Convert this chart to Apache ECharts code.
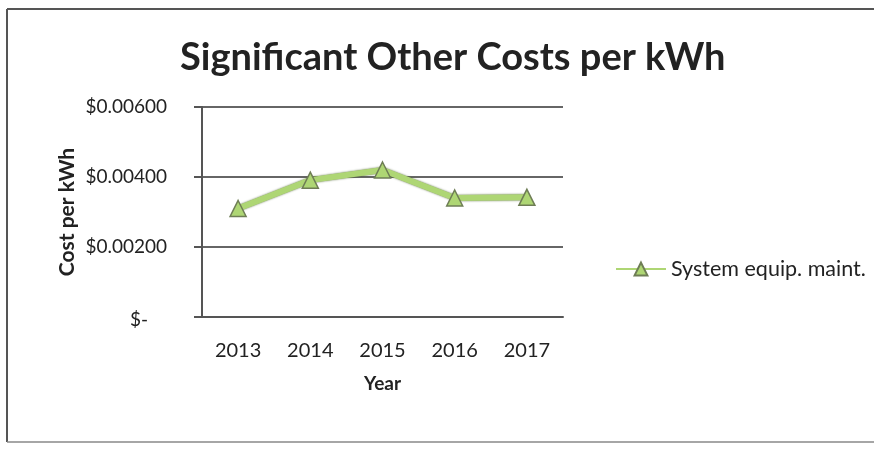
<!DOCTYPE html>
<html>
<head>
<meta charset="utf-8">
<script src="https://cdn.jsdelivr.net/npm/echarts@6/dist/echarts.min.js"></script>
<style>
  html, body { margin: 0; padding: 0; background: #fff; }
  #main { width: 874px; height: 451px; }
</style>
</head>
<body>
<div id="main"></div>
<script>
// chart data
var years = ['2013', '2014', '2015', '2016', '2017'];
var equipMaint = [0.00310, 0.00391, 0.00420, 0.00340, 0.00342];
var yTicks = [0, 0.002, 0.004, 0.006];
var seriesName = 'System equip. maint.';

var font = 'Lato';
var chart = echarts.init(document.getElementById('main'));

var option = {
  backgroundColor: '#fff',
  animation: false,
  // frame of the scanned chart box (open on the right)
  graphic: [
    { type: 'line', shape: { x1: 7, y1: 9, x2: 874, y2: 9 }, style: { stroke: '#555', lineWidth: 2 } },
    { type: 'line', shape: { x1: 7, y1: 9, x2: 7, y2: 442 }, style: { stroke: '#555', lineWidth: 2 } },
    { type: 'line', shape: { x1: 7, y1: 442, x2: 874, y2: 442 }, style: { stroke: '#888', lineWidth: 1.5 } }
  ],
  title: {
    text: 'Significant Other Costs per kWh',
    left: 175,
    top: 34,
    textStyle: { fontFamily: font, fontSize: 38, fontWeight: 'bold', color: '#222' }
  },
  legend: {
    data: [seriesName],
    left: 610,
    top: 253,
    itemWidth: 50,
    itemHeight: 16,
    itemGap: 4,
    textStyle: { fontFamily: font, fontSize: 21.5, color: '#222' }
  },
  grid: { left: 202, right: 311, top: 107, bottom: 134 },
  xAxis: {
    type: 'category',
    data: years,
    name: 'Year',
    nameLocation: 'middle',
    nameGap: 57,
    nameTextStyle: { fontFamily: font, fontSize: 19, fontWeight: 'bold', color: '#222' },
    axisLine: { lineStyle: { color: '#555', width: 2 } },
    axisTick: { show: false },
    axisLabel: { fontFamily: font, fontSize: 20, color: '#222', margin: 24 }
  },
  yAxis: {
    type: 'value',
    min: yTicks[0],
    max: yTicks[yTicks.length - 1],
    interval: yTicks[1] - yTicks[0],
    name: 'Cost per kWh',
    nameLocation: 'middle',
    nameGap: 124,
    nameTextStyle: { fontFamily: font, fontSize: 21, fontWeight: 'bold', color: '#222' },
    axisLine: { show: true, lineStyle: { color: '#555', width: 2 } },
    axisTick: { show: true, length: 8, lineStyle: { color: '#555', width: 2 } },
    splitLine: { lineStyle: { color: '#666', width: 2 } },
    axisLabel: {
      fontFamily: font, fontSize: 19, color: '#222', margin: 35,
      formatter: function (v) {
        return v === 0 ? '{z|$-}' : '$' + v.toFixed(5);
      },
      rich: {
        z: { fontFamily: font, fontSize: 19, color: '#222', padding: [6, 19, 0, 0] }
      }
    }
  },
  series: [{
    name: seriesName,
    type: 'line',
    data: equipMaint,
    symbol: 'triangle',
    symbolSize: 16,
    lineStyle: {
      color: '#aed674', width: 6,
      shadowColor: 'rgba(70,90,40,0.85)', shadowBlur: 2
    },
    itemStyle: { color: '#aed674', borderColor: '#6e7d55', borderWidth: 1.5 }
  }]
};

chart.setOption(option);
</script>
</body>
</html>
